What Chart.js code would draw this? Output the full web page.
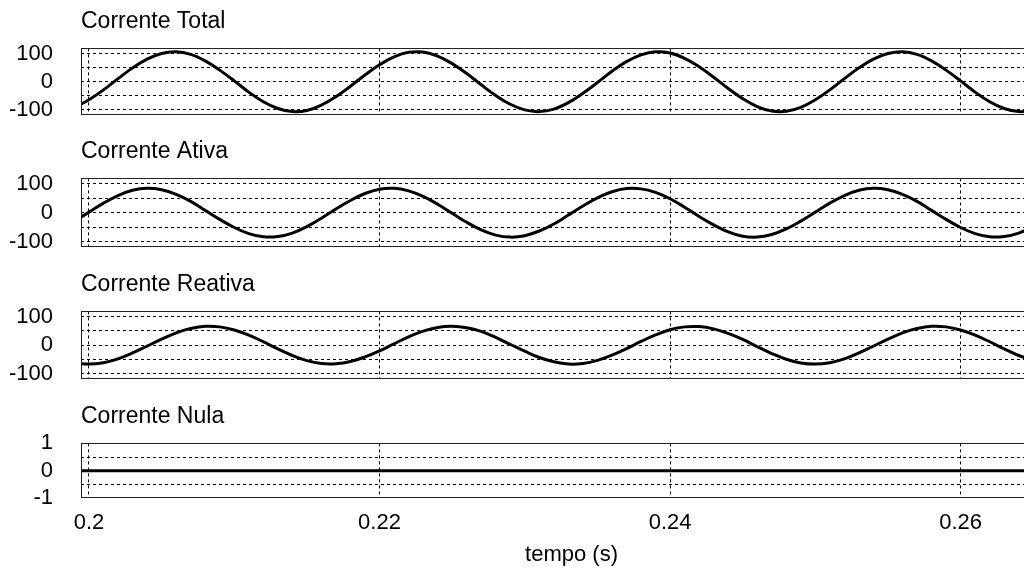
<!DOCTYPE html>
<html><head><meta charset="utf-8">
<script src="https://cdn.jsdelivr.net/npm/chart.js@4/dist/chart.umd.min.js"></script>
<style>
html,body{margin:0;padding:0;overflow:hidden;background:#fff;width:1024px;height:570px;}
.p{position:absolute;left:0;}
canvas{display:block;}
</style></head><body>
<div class="p" style="top:0px"><canvas id="c1" width="1062" height="120"></canvas></div>
<div class="p" style="top:130px"><canvas id="c2" width="1062" height="122"></canvas></div>
<div class="p" style="top:263px"><canvas id="c3" width="1062" height="121"></canvas></div>
<div class="p" style="top:395px"><canvas id="c4" width="1062" height="175"></canvas></div>
<script>
const time = [0.199,0.200,0.201,0.202,0.203,0.204,0.205,0.206,0.207,0.208,0.209,0.210,0.211,0.212,0.213,0.214,0.215,0.216,0.217,0.218,0.219,0.220,0.221,0.222,0.223,0.224,0.225,0.226,0.227,0.228,0.229,0.230,0.231,0.232,0.233,0.234,0.235,0.236,0.237,0.238,0.239,0.240,0.241,0.242,0.243,0.244,0.245,0.246,0.247,0.248,0.249,0.250,0.251,0.252,0.253,0.254,0.255,0.256,0.257,0.258,0.259,0.260,0.261,0.262,0.263,0.264,0.265];
const total = [-91,-64,-29,11,49,80,100,106,97,74,41,3,-37,-71,-95,-106,-102,-83,-53,-16,24,60,88,104,105,91,64,29,-11,-49,-80,-100,-106,-97,-74,-41,-3,37,71,95,106,102,83,53,16,-24,-60,-88,-104,-105,-91,-64,-29,11,49,80,100,106,97,74,41,3,-37,-71,-95,-106,-102];
const ativa = [-29,2,33,59,77,84,79,63,39,8,-23,-51,-72,-83,-82,-70,-48,-19,13,42,66,81,84,75,56,29,-2,-33,-59,-77,-84,-79,-63,-39,-8,23,51,72,83,82,70,48,19,-13,-42,-66,-81,-84,-75,-56,-29,2,33,59,77,84,79,63,39,8,-23,-51,-72,-83,-82,-70,-48];
const reativa = [-62,-66,-61,-48,-27,-3,21,43,58,66,64,53,35,12,-13,-36,-54,-64,-65,-57,-41,-20,5,29,49,62,66,61,48,27,3,-21,-43,-58,-66,-64,-53,-35,-12,13,36,54,64,65,57,41,20,-5,-29,-49,-62,-66,-61,-48,-27,-3,21,43,58,66,64,53,35,12,-13,-36,-54];
const nula = [0,0,0,0,0,0,0,0,0,0,0,0,0,0,0,0,0,0,0,0,0,0,0,0,0,0,0,0,0,0,0,0,0,0,0,0,0,0,0,0,0,0,0,0,0,0,0,0,0,0,0,0,0,0,0,0,0,0,0,0,0,0,0,0,0,0,0];
const xTicks = [0.2,0.22,0.24,0.26];
const xTickLabels = ['0.2','0.22','0.24','0.26'];
const yTicksA = [-100,-50,0,50,100];
const yLabelsA = ['-100','','0','','100'];
const yTicksN = [-1,-0.5,0,0.5,1];
const yLabelsN = ['-1','','0','','1'];
const titles = ['Corrente Total','Corrente Ativa','Corrente Reativa','Corrente Nula'];
const xTitle = 'tempo (s)';

Chart.defaults.font.family = "'Liberation Sans', Arial, sans-serif";
Chart.defaults.color = '#000';

const boxPlugin = {
  id: 'box',
  afterDraw(chart) {
    const a = chart.chartArea, ctx = chart.ctx;
    ctx.save();
    ctx.strokeStyle = '#222';
    ctx.lineWidth = 1;
    const l = Math.round(a.left) + 0.5, t = Math.round(a.top) + 0.5;
    ctx.strokeRect(l, t, Math.round(a.right) - 1 - l + 0.5, Math.round(a.bottom) - 1 - t + 0.5);
    ctx.restore();
  }
};

function makeChart(id, series, yTicks, yLabels, yMin, yMax, title, bottom) {
  const data = time.map((t, i) => ({x: t, y: series[i]}));
  new Chart(document.getElementById(id), {
    type: 'line',
    data: {datasets: [{data, borderColor: '#000', borderWidth: 3, pointRadius: 0, tension: 0.4, fill: false}]},
    options: {
      responsive: false, animation: false, devicePixelRatio: 1,
      layout: {padding: 0, autoPadding: false},
      plugins: {
        legend: {display: false}, tooltip: {enabled: false},
        title: {display: true, text: title, align: 'start', fullSize: false, color: '#000',
          font: {size: 23, weight: 'normal'}, padding: {top: 8, bottom: 12.8}}
      },
      scales: {
        x: {
          type: 'linear', min: 0.19945, max: 0.26698,
          afterBuildTicks: s => { s.ticks = xTicks.map(v => ({value: v})); },
          afterFit: s => { s.height = bottom ? 72 : 5; s.paddingLeft = 0; s.paddingRight = 0; },
          grid: {color: '#000', lineWidth: 1, drawTicks: false, tickLength: 0},
          border: {display: false, dash: [3, 3]},
          ticks: {display: bottom, autoSkip: false, maxRotation: 0, padding: 12, font: {size: 22},
            callback: (v, i) => xTickLabels[i]},
          title: {display: bottom, text: xTitle, font: {size: 22}, padding: {top: 0, bottom: 2}}
        },
        y: {
          min: yMin, max: yMax,
          afterBuildTicks: s => { s.ticks = yTicks.map(v => ({value: v})); },
          afterFit: s => { s.width = 81; s.paddingTop = 0; s.paddingBottom = 0; },
          grid: {color: c => (Math.abs(c.tick && c.tick.value) >= yMax - 1e-9 ? 'rgba(0,0,0,0)' : '#000'),
            lineWidth: 1, drawTicks: false, tickLength: 0},
          border: {display: false, dash: [3, 3]},
          ticks: {autoSkip: false, padding: 28, font: {size: 22}, callback: (v, i) => yLabels[i]}
        }
      }
    },
    plugins: [boxPlugin]
  });
}

makeChart('c1', total, yTicksA, yLabelsA, -118, 118, titles[0], false);
makeChart('c2', ativa, yTicksA, yLabelsA, -118, 118, titles[1], false);
makeChart('c3', reativa, yTicksA, yLabelsA, -118, 118, titles[2], false);
makeChart('c4', nula, yTicksN, yLabelsN, -1, 1, titles[3], true);
</script>
</body></html>
